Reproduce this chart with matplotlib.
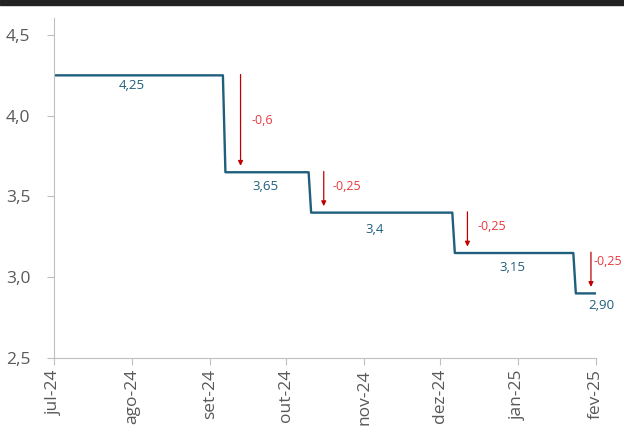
import matplotlib
matplotlib.use("Agg")
import matplotlib.pyplot as plt
from matplotlib.patches import Rectangle
import pandas as pd

# taxa e datas de corte
datas_corte = ["2024-07-01", "2024-09-07", "2024-10-11", "2024-12-07", "2025-01-24"]
taxas = [4.25, 3.65, 3.40, 3.15, 2.90]
rotulos_taxa = ["4,25", "3,65", "3,4", "3,15", "2,90"]
variacoes = ["-0,6", "-0,25", "-0,25", "-0,25"]
datas_seta = ["2024-09-13", "2024-10-16", "2024-12-12", "2025-01-30"]
meses = ["jul-24", "ago-24", "set-24", "out-24", "nov-24", "dez-24", "jan-25", "fev-25"]

inicio = pd.Timestamp("2024-07-01")
fim = pd.Timestamp("2025-02-01")

# série diária a partir dos degraus
dias = pd.date_range(inicio, fim, freq="D")
serie = pd.Series(taxas, index=pd.to_datetime(datas_corte)).reindex(dias).ffill()

azul = "#1f5f7d"
vermelho = "#e8383d"
cinza = "#bfbfbf"

plt.rcParams["font.family"] = ["Open Sans", "DejaVu Sans"]

fig = plt.figure(figsize=(6.24, 4.28), dpi=100)
ax = fig.add_axes([54 / 624, 1 - 358 / 428, (596 - 54) / 624, (358 - 18) / 428])

# faixa preta no topo
fig.patches.append(Rectangle((0, 1 - 5 / 428), 1, 5 / 428, transform=fig.transFigure,
                             color="#222222", zorder=5))

ax.plot(serie.index, serie.values, color=azul, lw=1.7)

# rótulos das taxas
pos_rotulo = ["2024-08-01", "2024-09-23", "2024-11-05", "2024-12-30", "2025-02-03"]
desloc = [-0.066, -0.09, -0.107, -0.087, -0.072]
for d, v, t, dy in zip(pos_rotulo, taxas, rotulos_taxa, desloc):
    ax.text(pd.Timestamp(d), v + dy, t, color=azul, fontsize=9.5, ha="center", va="center",
            clip_on=False)

# setas de variação
offs = [(8, 0), (6, 2), (7, 2), (1.5, 6)]
for i, txt in enumerate(variacoes):
    x = pd.Timestamp(datas_seta[i])
    y0 = taxas[i] + 0.005
    y1 = taxas[i + 1] + 0.04
    ax.annotate("", xy=(x, y1), xytext=(x, y0),
                arrowprops=dict(arrowstyle="-|>", color="#c00000", lw=0.9,
                                mutation_scale=7, shrinkA=0, shrinkB=0))
    ax.annotate(txt, xy=(x, (y0 + y1) / 2), xytext=offs[i], textcoords="offset points",
                color=vermelho, fontsize=9, ha="left", va="center")

ax.set_xlim(inicio, fim)
ax.set_ylim(2.5, 4.605)
ax.set_yticks([2.5, 3.0, 3.5, 4.0, 4.5])
ax.set_yticklabels(["2,5", "3,0", "3,5", "4,0", "4,5"])
ax.set_xticks(pd.date_range(inicio, fim, freq="MS"))
ax.set_xticklabels(meses, rotation=90)

for lado in ["top", "right"]:
    ax.spines[lado].set_visible(False)
for lado in ["left", "bottom"]:
    ax.spines[lado].set_color(cinza)
ax.tick_params(colors=cinza, labelcolor="#595959", labelsize=12.5, length=5)
ax.tick_params(axis="y", pad=12)
ax.tick_params(axis="x", pad=3)

fig.savefig("out.png", dpi=100)
